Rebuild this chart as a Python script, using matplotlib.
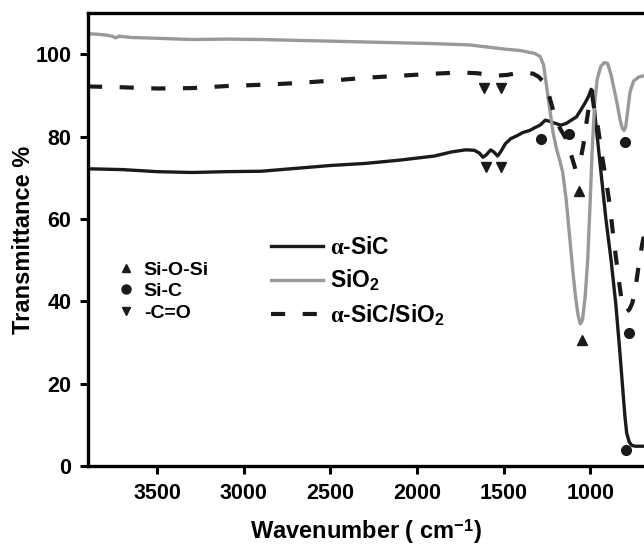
import matplotlib
matplotlib.use("Agg")
import matplotlib.pyplot as plt
from matplotlib.lines import Line2D

plt.rcParams['font.family'] = ['Liberation Sans', 'DejaVu Sans']
plt.rcParams['font.weight'] = 'bold'
plt.rcParams['mathtext.fontset'] = 'custom'
plt.rcParams['mathtext.rm'] = 'Liberation Sans:bold'
plt.rcParams['mathtext.it'] = 'Liberation Serif'
plt.rcParams['mathtext.bf'] = 'Liberation Sans:bold'

# SiO2 spectrum
sio2_x = [3900, 3850, 3800, 3760, 3740, 3720, 3650, 3500, 3300, 3100, 2900, 2700,
          2500, 2300, 2100, 1900, 1700, 1600, 1500, 1400, 1320, 1290, 1270, 1255,
          1235, 1215, 1195, 1175, 1160, 1140, 1120, 1100, 1085, 1070, 1058, 1045,
          1030, 1015, 1000, 990, 975, 960, 940, 920, 900, 880, 860, 845, 830, 815,
          805, 795, 785, 770, 750, 720, 690]
sio2_y = [105.0, 104.9, 104.7, 104.4, 104.0, 104.4, 104.1, 103.9, 103.6, 103.7,
          103.6, 103.4, 103.2, 103.0, 102.8, 102.6, 102.3, 101.8, 101.3, 100.9,
          100.2, 99.5, 97.5, 93.0, 87.0, 81.0, 77.0, 74.0, 71.5, 65.0, 56.0, 47.0,
          41.0, 36.5, 34.5, 35.5, 41.0, 50.0, 65.0, 76.0, 88.0, 94.0, 97.0, 98.0,
          97.8, 95.0, 91.0, 88.0, 84.5, 82.0, 81.5, 82.5, 86.0, 91.0, 93.5, 94.5,
          94.8]

# alpha-SiC spectrum
sic_x = [3900, 3800, 3700, 3500, 3300, 3100, 2900, 2700, 2500, 2300, 2100, 1900,
         1800, 1720, 1670, 1640, 1620, 1600, 1575, 1555, 1535, 1515, 1490, 1460,
         1420, 1390, 1350, 1320, 1290, 1260, 1240, 1200, 1170, 1140, 1110, 1080,
         1050, 1030, 1010, 995, 985, 970, 950, 930, 910, 880, 852, 830, 815, 800,
         790, 775, 760, 740, 690]
sic_y = [72.2, 72.1, 72.0, 71.5, 71.3, 71.5, 71.6, 72.3, 73.0, 73.5, 74.3, 75.3,
         76.3, 76.8, 76.7, 76.0, 75.0, 75.6, 76.8, 76.2, 75.3, 76.5, 78.3, 79.5,
         80.3, 81.0, 81.5, 82.2, 82.8, 84.0, 83.8, 83.2, 82.8, 83.2, 84.0, 84.8,
         86.8, 88.2, 89.8, 91.5, 91.0, 84.0, 76.0, 68.0, 60.0, 50.0, 39.0, 28.0,
         20.0, 12.0, 8.0, 5.8, 5.0, 4.8, 4.8]

# alpha-SiC/SiO2 composite spectrum
comp_x = [3900, 3700, 3500, 3300, 3100, 2900, 2700, 2500, 2300, 2100, 1900, 1750,
          1650, 1550, 1480, 1400, 1330, 1300, 1270, 1245, 1225, 1205, 1175, 1140,
          1110, 1085, 1065, 1040, 1020, 1000, 990, 975, 955, 935, 915, 895, 880,
          865, 850, 835, 820, 805, 790, 775, 758, 740, 718, 700, 690]
comp_y = [92.2, 92.0, 91.7, 91.8, 92.3, 92.6, 93.0, 93.6, 94.3, 94.8, 95.3, 95.6,
          95.4, 94.8, 95.0, 95.6, 95.3, 94.6, 93.3, 91.0, 88.0, 85.0, 82.0, 79.5,
          75.5, 72.0, 72.5, 78.0, 84.0, 89.5, 90.5, 86.0, 82.0, 76.0, 71.0, 65.5,
          60.5, 55.0, 50.0, 45.0, 40.5, 38.0, 37.5, 38.0, 39.5, 43.0, 49.5, 54.0,
          56.0]

# band markers
siosi_x = [1064, 1046]
siosi_y = [66.9, 30.6]
sic_band_x = [1284, 1121, 799, 775, 795]
sic_band_y = [79.5, 80.7, 78.8, 32.4, 3.9]
co_x = [1615, 1515, 1605, 1515]
co_y = [91.9, 91.9, 72.7, 72.7]

fig = plt.figure(figsize=(6.44, 5.49), dpi=100)
ax = fig.add_axes([0.1366, 0.1512, 0.8634, 0.8248])

l1, = ax.plot(sic_x, sic_y, color='#1a1a1a', lw=2.4, label=r'$\alpha$-SiC')
l2, = ax.plot(sio2_x, sio2_y, color='#999999', lw=2.4, label='SiO$_2$')
l3, = ax.plot(comp_x, comp_y, color='#1a1a1a', lw=3.0, dashes=(3.4, 4.2),
              label=r'$\alpha$-SiC/SiO$_2$')

ax.plot(siosi_x, siosi_y, '^', color='#1a1a1a', ms=6.5, ls='none')
ax.plot(sic_band_x, sic_band_y, 'o', color='#1a1a1a', ms=7, ls='none')
ax.plot(co_x, co_y, 'v', color='#1a1a1a', ms=6.5, ls='none')

ax.set_xlim(3900, 690)
ax.set_ylim(0, 110)
ax.set_xticks([3500, 3000, 2500, 2000, 1500, 1000])
ax.set_yticks([0, 20, 40, 60, 80, 100])
ax.tick_params(labelsize=15.5, width=2.2, length=6, direction='out', pad=6)
for lab in ax.get_xticklabels() + ax.get_yticklabels():
    lab.set_fontweight('bold')
for s in ['left', 'bottom', 'top']:
    ax.spines[s].set_linewidth(2.4)
ax.spines['right'].set_visible(False)

ax.set_xlabel('Wavenumber ( cm$^{\\mathregular{-1}}$)', fontsize=17,
              fontweight='bold', labelpad=10)
ax.set_ylabel('Transmittance %', fontsize=17, fontweight='bold', labelpad=0)

mk = [Line2D([], [], marker='^', color='#1a1a1a', ls='none', ms=6),
      Line2D([], [], marker='o', color='#1a1a1a', ls='none', ms=6.5),
      Line2D([], [], marker='v', color='#1a1a1a', ls='none', ms=6)]
leg1 = ax.legend(mk, ['Si-O-Si', 'Si-C', '-C=O'], loc='upper left',
                 bbox_to_anchor=(0.033, 0.474), frameon=False, borderpad=0,
                 handlelength=1.0, handletextpad=0.43, labelspacing=0.2,
                 prop={'size': 14, 'weight': 'bold'})
ax.add_artist(leg1)
ax.legend(handles=[l1, l2, l3], loc='upper left', bbox_to_anchor=(0.309, 0.534),
          frameon=False, borderpad=0, handlelength=2.27, handletextpad=0.3,
          labelspacing=0.4, prop={'size': 16.5, 'weight': 'bold'})

fig.savefig('out.png', dpi=100)
